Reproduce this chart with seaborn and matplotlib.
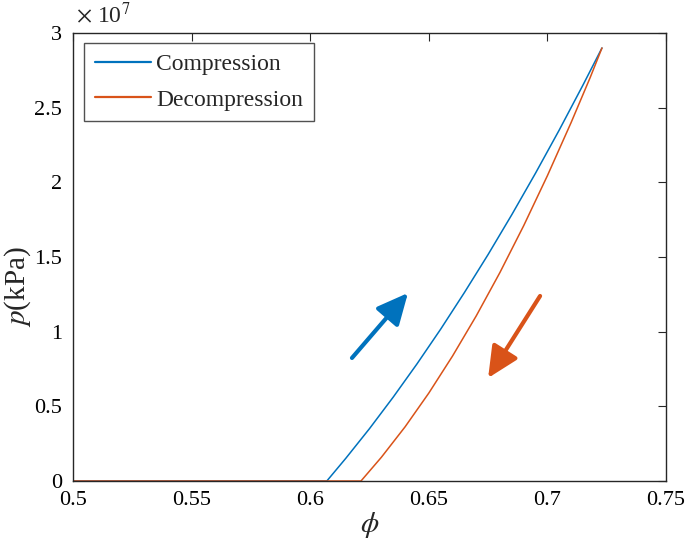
import matplotlib
matplotlib.use("Agg")
import matplotlib.pyplot as plt
import seaborn as sns
import pandas as pd
from matplotlib.ticker import FixedLocator

# ---- data ----
comp_phi = [0.500, 0.607, 0.615, 0.625, 0.635, 0.645, 0.655, 0.665, 0.675,
            0.685, 0.695, 0.705, 0.715, 0.723]
comp_p = [0.0, 0.0, 0.152e7, 0.351e7, 0.562e7, 0.784e7, 1.017e7, 1.262e7,
          1.517e7, 1.784e7, 2.062e7, 2.351e7, 2.652e7, 2.900e7]
decomp_phi = [0.500, 0.6214, 0.630, 0.640, 0.650, 0.660, 0.670, 0.680, 0.690,
              0.700, 0.710, 0.718, 0.723]
decomp_p = [0.0, 0.0, 0.159e7, 0.363e7, 0.589e7, 0.837e7, 1.106e7, 1.397e7,
            1.710e7, 2.045e7, 2.401e7, 2.701e7, 2.900e7]
series_names = ["Compression", "Decompression"]
colors = ["#0072BD", "#D95319"]
x_ticks = [0.5, 0.55, 0.6, 0.65, 0.7, 0.75]
x_tick_labels = ["0.5", "0.55", "0.6", "0.65", "0.7", "0.75"]
y_ticks = [0, 0.5e7, 1e7, 1.5e7, 2e7, 2.5e7, 3e7]
y_tick_labels = ["0", "0.5", "1", "1.5", "2", "2.5", "3"]
# arrows: (tail_x, tail_y, tip_x, tip_y)
arrow_comp = (0.6176, 0.824e7, 0.6412, 1.259e7)
arrow_decomp = (0.6969, 1.239e7, 0.6750, 0.690e7)

df = pd.concat([
    pd.DataFrame({"phi": comp_phi, "p": comp_p, "series": series_names[0]}),
    pd.DataFrame({"phi": decomp_phi, "p": decomp_p, "series": series_names[1]}),
], ignore_index=True)

sns.set_style("white")
plt.rcParams["font.family"] = ["Liberation Serif", "DejaVu Serif"]
plt.rcParams["mathtext.fontset"] = "stix"

fig = plt.figure(figsize=(6.85, 5.44), dpi=100)
ax = fig.add_axes([0.1066, 0.1158, 0.8657, 0.8235])

sns.lineplot(data=df, x="phi", y="p", hue="series", palette=colors,
             hue_order=series_names, sort=False, estimator=None,
             linewidth=1.1, ax=ax)

ax.set_xlim(0.5, 0.75)
ax.set_ylim(0, 3e7)
ax.xaxis.set_major_locator(FixedLocator(x_ticks))
ax.yaxis.set_major_locator(FixedLocator(y_ticks))
ax.set_xticklabels(x_tick_labels)
ax.set_yticklabels(y_tick_labels)

axcol = "#262626"
for s in ax.spines.values():
    s.set_visible(True)
    s.set_color(axcol)
    s.set_linewidth(1.0)
ax.tick_params(direction="in", length=6, width=0.8, color=axcol,
               top=True, right=True, labelsize=16, labelcolor="black")
ax.tick_params(axis="x", pad=7)
ax.tick_params(axis="y", pad=8)

ax.set_xlabel(r"$\phi$", fontsize=21, labelpad=0)
ax.set_ylabel(r"$p$(kPa)", fontsize=21)
ax.yaxis.set_label_coords(-0.068, 0.435)
ax.text(0.005, 1.012, r"$\times$ 10$^{7}$", transform=ax.transAxes,
        fontsize=17, ha="left", va="bottom")

for (tx, ty, hx, hy), c in zip([arrow_comp, arrow_decomp], colors):
    ax.annotate("", xy=(hx, hy), xytext=(tx, ty),
                arrowprops=dict(arrowstyle="-|>,head_length=0.95,head_width=0.45",
                                color=c, lw=3, mutation_scale=20,
                                shrinkA=0, shrinkB=0))

leg = ax.legend(loc="upper left", fontsize=17, frameon=True, fancybox=False,
                edgecolor=axcol, handlelength=2.4, borderpad=0.45,
                labelspacing=0.6, handletextpad=0.2, borderaxespad=0,
                bbox_to_anchor=(0.0185, 0.978))
leg.get_frame().set_linewidth(1.0)
for line in leg.get_lines():
    line.set_linewidth(1.6)

fig.savefig("out.png", dpi=100)
